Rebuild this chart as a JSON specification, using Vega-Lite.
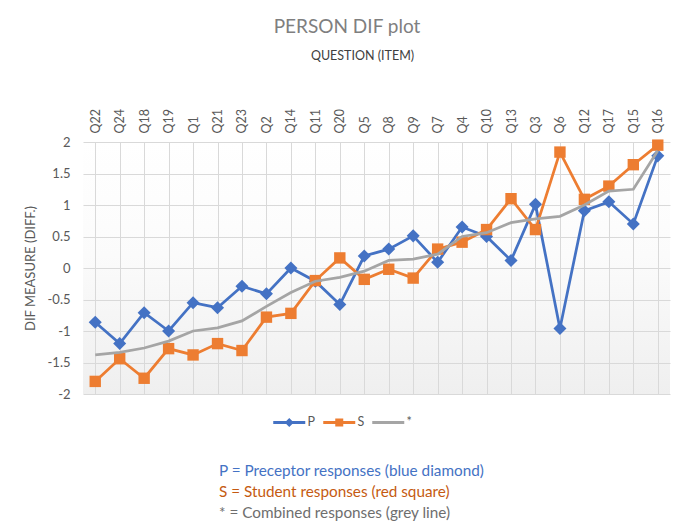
{
  "$schema": "https://vega.github.io/schema/vega-lite/v6.json",
  "padding": {"top": 18, "left": 24, "right": 10, "bottom": 4},
  "title": {"text": "PERSON DIF plot", "fontSize": 19, "font": "Lato", "fontWeight": "normal", "color": "#7f7f7f", "anchor": "middle", "frame": "bounds", "offset": 12},
  "datasets": {
    "main": [
      {"q": "Q22", "series": "P", "value": -0.86},
      {"q": "Q24", "series": "P", "value": -1.2},
      {"q": "Q18", "series": "P", "value": -0.71},
      {"q": "Q19", "series": "P", "value": -1.0},
      {"q": "Q1", "series": "P", "value": -0.55},
      {"q": "Q21", "series": "P", "value": -0.63},
      {"q": "Q23", "series": "P", "value": -0.29},
      {"q": "Q2", "series": "P", "value": -0.41},
      {"q": "Q14", "series": "P", "value": 0.0},
      {"q": "Q11", "series": "P", "value": -0.21},
      {"q": "Q20", "series": "P", "value": -0.58},
      {"q": "Q5", "series": "P", "value": 0.19},
      {"q": "Q8", "series": "P", "value": 0.3},
      {"q": "Q9", "series": "P", "value": 0.51},
      {"q": "Q7", "series": "P", "value": 0.09},
      {"q": "Q4", "series": "P", "value": 0.65},
      {"q": "Q10", "series": "P", "value": 0.5},
      {"q": "Q13", "series": "P", "value": 0.12},
      {"q": "Q3", "series": "P", "value": 1.01},
      {"q": "Q6", "series": "P", "value": -0.96},
      {"q": "Q12", "series": "P", "value": 0.91},
      {"q": "Q17", "series": "P", "value": 1.05},
      {"q": "Q15", "series": "P", "value": 0.7},
      {"q": "Q16", "series": "P", "value": 1.78},
      {"q": "Q22", "series": "S", "value": -1.8},
      {"q": "Q24", "series": "S", "value": -1.44},
      {"q": "Q18", "series": "S", "value": -1.75},
      {"q": "Q19", "series": "S", "value": -1.28},
      {"q": "Q1", "series": "S", "value": -1.38},
      {"q": "Q21", "series": "S", "value": -1.2},
      {"q": "Q23", "series": "S", "value": -1.31},
      {"q": "Q2", "series": "S", "value": -0.78},
      {"q": "Q14", "series": "S", "value": -0.72},
      {"q": "Q11", "series": "S", "value": -0.2},
      {"q": "Q20", "series": "S", "value": 0.16},
      {"q": "Q5", "series": "S", "value": -0.18},
      {"q": "Q8", "series": "S", "value": -0.02},
      {"q": "Q9", "series": "S", "value": -0.16},
      {"q": "Q7", "series": "S", "value": 0.3},
      {"q": "Q4", "series": "S", "value": 0.41},
      {"q": "Q10", "series": "S", "value": 0.61},
      {"q": "Q13", "series": "S", "value": 1.1},
      {"q": "Q3", "series": "S", "value": 0.61},
      {"q": "Q6", "series": "S", "value": 1.84},
      {"q": "Q12", "series": "S", "value": 1.09},
      {"q": "Q17", "series": "S", "value": 1.3},
      {"q": "Q15", "series": "S", "value": 1.64},
      {"q": "Q16", "series": "S", "value": 1.95},
      {"q": "Q22", "series": "*", "value": -1.38},
      {"q": "Q24", "series": "*", "value": -1.34},
      {"q": "Q18", "series": "*", "value": -1.27},
      {"q": "Q19", "series": "*", "value": -1.16},
      {"q": "Q1", "series": "*", "value": -1.0},
      {"q": "Q21", "series": "*", "value": -0.95},
      {"q": "Q23", "series": "*", "value": -0.84},
      {"q": "Q2", "series": "*", "value": -0.61},
      {"q": "Q14", "series": "*", "value": -0.39},
      {"q": "Q11", "series": "*", "value": -0.21},
      {"q": "Q20", "series": "*", "value": -0.15},
      {"q": "Q5", "series": "*", "value": -0.05},
      {"q": "Q8", "series": "*", "value": 0.12},
      {"q": "Q9", "series": "*", "value": 0.14},
      {"q": "Q7", "series": "*", "value": 0.22},
      {"q": "Q4", "series": "*", "value": 0.5},
      {"q": "Q10", "series": "*", "value": 0.56},
      {"q": "Q13", "series": "*", "value": 0.72},
      {"q": "Q3", "series": "*", "value": 0.78},
      {"q": "Q6", "series": "*", "value": 0.82},
      {"q": "Q12", "series": "*", "value": 1.0},
      {"q": "Q17", "series": "*", "value": 1.22},
      {"q": "Q15", "series": "*", "value": 1.25},
      {"q": "Q16", "series": "*", "value": 1.86}
    ],
    "notes": [
      {"n": 1, "who": "P", "label": "P = Preceptor responses (blue diamond)"},
      {"n": 2, "who": "S", "label": "S = Student responses (red square)"},
      {"n": 3, "who": "C", "label": "* = Combined responses (grey line)"}
    ]
  },
  "resolve": {"scale": {"color": "independent", "shape": "independent"}, "legend": {"color": "independent", "shape": "independent"}},
  "spacing": 32,
  "vconcat": [
    {
      "width": 587,
      "height": 252,
      "view": {"stroke": null, "fill": {"gradient": "linear", "x1": 0, "y1": 0, "x2": 0, "y2": 1, "stops": [{"offset": 0, "color": "#ffffff"}, {"offset": 0.45, "color": "#fbfbfb"}, {"offset": 1, "color": "#efefef"}]}},
      "data": {"name": "main"},
      "resolve": {"legend": {"color": "independent", "shape": "independent"}},
      "encoding": {
        "x": {"field": "q", "type": "ordinal", "sort": null, "scale": {"type": "point", "padding": 0.5},
          "axis": {"orient": "top", "title": "QUESTION (ITEM)", "titleFont": "Lato", "titleFontSize": 12.5, "titleFontWeight": "normal", "titleColor": "#404040", "titlePadding": 46, "titleX": 279,
            "labelAngle": -90, "labelFont": "Lato", "labelFontSize": 12.5, "labelColor": "#595959", "labelPadding": 9,
            "ticks": false, "domain": false, "grid": true, "gridColor": "#d9d9d9", "gridWidth": 1}},
        "y": {"field": "value", "type": "quantitative", "scale": {"domain": [-2, 2], "nice": false, "zero": false},
          "axis": {"values": [-2, -1.5, -1, -0.5, 0, 0.5, 1, 1.5, 2], "labelExpr": "'' + datum.value", "title": "DIF MEASURE (DIFF.)", "titleFont": "Lato", "titleFontSize": 13, "titleFontWeight": "normal", "titleColor": "#595959", "titlePadding": 10,
            "labelFont": "Lato", "labelFontSize": 13, "labelColor": "#595959", "labelPadding": 13,
            "ticks": false, "domain": false, "grid": true, "gridColor": "#d9d9d9", "gridWidth": 1}},
        "color": {"field": "series", "type": "nominal", "scale": {"domain": ["P", "S", "*"], "range": ["#4472C4", "#ED7D31", "#A5A5A5"]}, "legend": null}
      },
      "layer": [
        {
          "transform": [{"filter": "false"}],
          "mark": {"type": "point", "filled": true, "opacity": 1},
          "encoding": {
            "color": {"field": "series", "type": "nominal", "scale": {"domain": ["P", "S", "*"], "range": ["#4472C4", "#ED7D31", "#A5A5A5"]},
              "legend": {"orient": "none", "legendX": 200, "legendY": 274, "direction": "horizontal", "title": null, "labelFont": "Lato", "labelFontSize": 12.5, "labelColor": "#595959", "symbolSize": 100, "labelOffset": 12, "columnPadding": 7, "symbolStrokeWidth": 0}},
            "shape": {"field": "series", "type": "nominal",
              "scale": {"domain": ["P", "S", "*"], "range": [
                "M-3.2,-0.3 L-0.6,-0.3 L0,-0.9 L0.6,-0.3 L3.2,-0.3 L3.2,0.3 L0.6,0.3 L0,0.9 L-0.6,0.3 L-3.2,0.3 Z",
                "M-3.2,-0.3 L-0.8,-0.3 L-0.8,-0.8 L0.8,-0.8 L0.8,-0.3 L3.2,-0.3 L3.2,0.3 L0.8,0.3 L0.8,0.8 L-0.8,0.8 L-0.8,0.3 L-3.2,0.3 Z",
                "M-3.2,-0.3 L3.2,-0.3 L3.2,0.3 L-3.2,0.3 Z"]},
              "legend": {"orient": "none", "legendX": 200, "legendY": 274, "direction": "horizontal", "title": null, "labelFont": "Lato", "labelFontSize": 12.5, "labelColor": "#595959", "symbolSize": 100, "labelOffset": 12, "columnPadding": 7, "symbolStrokeWidth": 0}}
          }
        },
        {"transform": [{"filter": "datum.series === 'P'"}], "mark": {"type": "line", "strokeWidth": 2.75}},
        {"transform": [{"filter": "datum.series === 'P'"}], "mark": {"type": "point", "shape": "diamond", "filled": true, "opacity": 1, "size": 170}},
        {"transform": [{"filter": "datum.series === 'S'"}], "mark": {"type": "line", "strokeWidth": 2.75}},
        {"transform": [{"filter": "datum.series === 'S'"}], "mark": {"type": "point", "shape": "square", "filled": true, "opacity": 1, "size": 130}},
        {"transform": [{"filter": "datum.series === '*'"}], "mark": {"type": "line", "strokeWidth": 2.75}}
      ]
    },
    {
      "width": 400,
      "height": 62,
      "view": {"stroke": null, "fill": null},
      "data": {"name": "notes"},
      "mark": {"type": "text", "align": "left", "baseline": "middle", "font": "Lato", "fontSize": 15.3},
      "encoding": {
        "y": {"field": "n", "type": "ordinal", "axis": null, "scale": {"padding": 0.5}},
        "x": {"value": 136},
        "text": {"field": "label"},
        "color": {"field": "who", "type": "nominal", "scale": {"domain": ["P", "S", "C"], "range": ["#4472C4", "#C55A11", "#6e6e6e"]}, "legend": null}
      }
    }
  ]
}
